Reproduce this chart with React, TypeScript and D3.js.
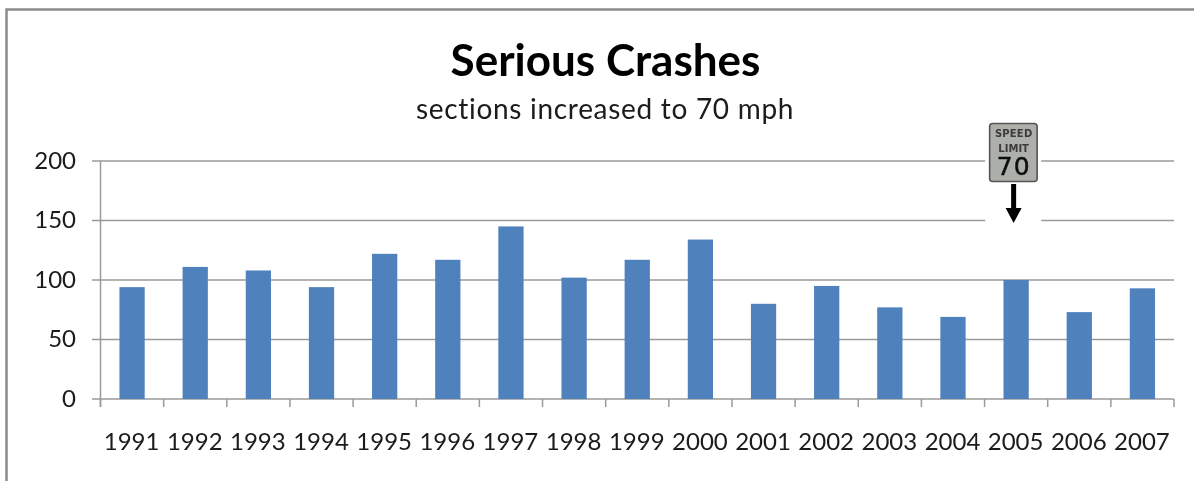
import React from "react";
import * as d3 from "d3";

const categories = ["1991","1992","1993","1994","1995","1996","1997","1998","1999","2000","2001","2002","2003","2004","2005","2006","2007"];
const crashes = [94,111,108,94,122,117,145,102,117,134,80,95,77,69,100,73,93];
const yTicks = [0,50,100,150,200];
const font = "Lato, 'Open Sans', sans-serif";
const signFont = "'DejaVu Sans', sans-serif";

export default function App() {
  const x = d3.scaleBand().domain(categories).range([100.5, 1174]).paddingInner(0.6).paddingOuter(0.3);
  const cat = d3.scaleBand().domain(categories).range([100.5, 1174]);
  const y = d3.scaleLinear().domain([0, 200]).range([399, 161]);
  const signX = cat("2005")! + cat.bandwidth() / 2 - 3;
  const axis = "#9a9a9a";
  return (
    <svg width={1194} height={481} style={{ position: "absolute", left: 0, top: 0, background: "#fff" }}>
      <defs>
        <filter id="soft" x="-5%" y="-20%" width="110%" height="140%">
          <feGaussianBlur stdDeviation={0.4} />
        </filter>
      </defs>
      <path d="M6.5,481V9.5H1194" fill="none" stroke="#8a8a8a" strokeWidth={2.5} />
      <g filter="url(#soft)">
        <text x={605.5} y={76} textAnchor="middle" fontFamily={font} fontWeight={700} fontSize={44} fill="#000">Serious Crashes</text>
        <text x={605} y={119} textAnchor="middle" fontFamily={font} fontSize={28} letterSpacing={0.7} fill="#1a1a1a">sections increased to 70 mph</text>
      </g>
      {yTicks.map(t => (
        <g key={t}>
          <line x1={92} x2={1174} y1={y(t)} y2={y(t)} stroke={axis} strokeWidth={1.5} />
          <text x={76} y={y(t) + 7.5} textAnchor="end" fontFamily={font} fontSize={24} fill="#1a1a1a" filter="url(#soft)">{t}</text>
        </g>
      ))}
      <line x1={100.5} x2={100.5} y1={161} y2={407} stroke={axis} strokeWidth={1.5} />
      {categories.map((c, i) => (
        <rect key={c} x={x(c)} y={y(crashes[i])} width={x.bandwidth()} height={y(0) - y(crashes[i])} fill="#4f81bd" />
      ))}
      {[...categories.map(c => cat(c)!), 1174].map((p, i) => (
        <line key={i} x1={p} x2={p} y1={399} y2={407} stroke={axis} strokeWidth={1.5} />
      ))}
      {categories.map(c => (
        <text key={c} x={cat(c)! + cat.bandwidth() / 2 - 0.5} y={450} textAnchor="middle" fontFamily={font} fontSize={24} fill="#1a1a1a" filter="url(#soft)">{c}</text>
      ))}
      <g transform={`translate(${signX},0)`}>
        <rect x={-28} y={113} width={56} height={112} fill="#fff" />
        <g filter="url(#soft)">
          <rect x={-23.5} y={123.5} width={47.5} height={58} rx={3} fill="#adb0aa" stroke="#555" strokeWidth={1.6} />
          <text x={0.5} y={137} textAnchor="middle" fontFamily={signFont} fontWeight={700} fontSize={10} letterSpacing={0.2} fill="#3a3a3a">SPEED</text>
          <text x={0.5} y={152} textAnchor="middle" fontFamily={signFont} fontWeight={700} fontSize={10} fill="#3a3a3a">LIMIT</text>
          <text x={0.5} y={175} textAnchor="middle" fontFamily={signFont} fontSize={25} letterSpacing={1} stroke="#111" strokeWidth={0.5} fill="#111">70</text>
          <path d="M-2,184H3V208H8.5L0.5,223L-7.5,208H-2Z" fill="#000" />
        </g>
      </g>
    </svg>
  );
}
